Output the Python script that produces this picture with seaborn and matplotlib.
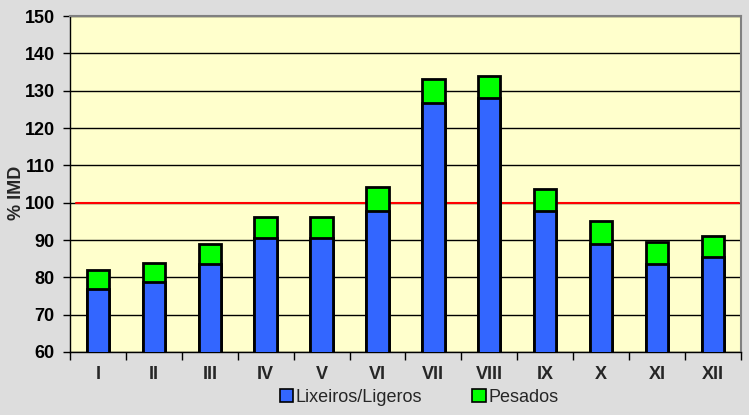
import matplotlib
matplotlib.use("Agg")
import matplotlib.pyplot as plt
import seaborn as sns
import pandas as pd
from matplotlib.patches import Patch
from matplotlib.ticker import MultipleLocator, FixedLocator

months = ["I", "II", "III", "IV", "V", "VI", "VII", "VIII", "IX", "X", "XI", "XII"]
ligeros = [77.0, 78.7, 83.5, 90.5, 90.5, 97.9, 126.6, 128.0, 97.9, 88.9, 83.7, 85.5]
pesados = [5.0, 5.1, 5.5, 5.6, 5.8, 6.3, 6.5, 6.0, 5.9, 6.1, 5.7, 5.5]
ref_level = 100

totals = [a + b for a, b in zip(ligeros, pesados)]
df = pd.DataFrame({"mes": months, "ligeros": ligeros, "total": totals})

sns.set_style("white")
plt.rcParams["font.family"] = ["Liberation Sans", "DejaVu Sans"]

blue = "#3366FF"
green = "#00FF00"
bg = "#DDDDDD"
plot_bg = "#FFFFCC"

fig = plt.figure(figsize=(7.49, 4.15), dpi=100, facecolor=bg)
ax = fig.add_axes([0.0935, 0.152, 0.8955, 0.809])
ax.set_facecolor(plot_bg)

# stacked bars: full height in green, lighter-vehicle share in blue on top of it
sns.barplot(data=df, x="mes", y="total", color=green, width=0.4,
            edgecolor="black", linewidth=2, saturation=1, ax=ax, zorder=3)
sns.barplot(data=df, x="mes", y="ligeros", color=blue, width=0.4,
            edgecolor="black", linewidth=2, saturation=1, ax=ax, zorder=4)

ax.set_ylim(60, 150)
ax.set_xlim(-0.5, len(months) - 0.5)
ax.yaxis.set_major_locator(MultipleLocator(10))
ax.grid(axis="y", color="black", linewidth=1, zorder=1)
ax.axhline(ref_level, color="#FF0000", linewidth=1.5, zorder=2, xmin=0.009, xmax=0.997)

ax.set_xlabel("")
ax.set_ylabel("% IMD", fontsize=13, fontweight="bold")
ax.yaxis.set_label_coords(-0.067, 0.475)

ax.tick_params(axis="y", which="major", direction="out", length=5, width=1,
               colors="black", labelsize=13, left=True, pad=6)
for lbl in ax.get_yticklabels():
    lbl.set_fontweight("bold")

ax.tick_params(axis="x", which="major", length=0, labelsize=13, pad=10)
for lbl in ax.get_xticklabels():
    lbl.set_fontweight("bold")
ax.xaxis.set_minor_locator(FixedLocator([i + 0.5 for i in range(-1, len(months))]))
ax.tick_params(axis="x", which="minor", direction="out", length=6, width=1,
               color="black", bottom=True)

for side in ["top", "right"]:
    ax.spines[side].set_color("#808080")
    ax.spines[side].set_linewidth(1.5)
for side in ["left", "bottom"]:
    ax.spines[side].set_color("black")
    ax.spines[side].set_linewidth(1)

handles = [Patch(facecolor=blue, edgecolor="black", linewidth=1.2, label="Lixeiros/Ligeros"),
           Patch(facecolor=green, edgecolor="black", linewidth=1.2, label="Pesados")]
fig.legend(handles=handles, loc="center", bbox_to_anchor=(0.5595, 0.043), ncol=2,
           frameon=False, fontsize=13, handlelength=0.75, handleheight=0.75,
           handletextpad=0.15, columnspacing=2.75)

fig.savefig("out.png", dpi=100, facecolor=bg)
